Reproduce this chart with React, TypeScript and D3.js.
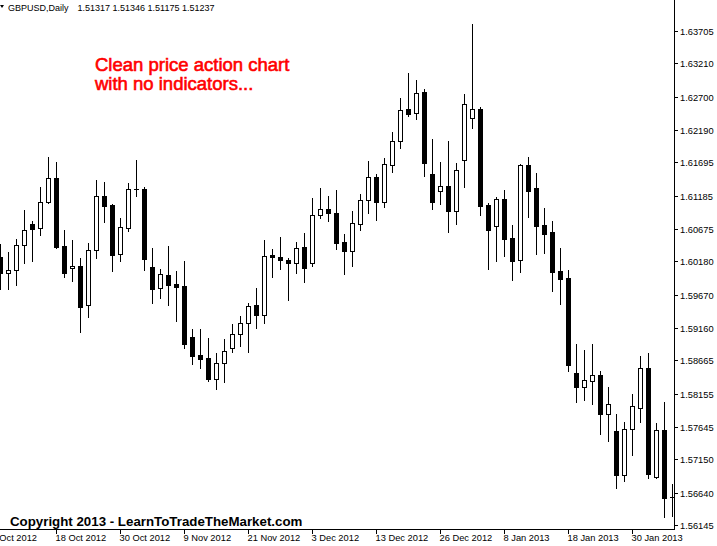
import React from "react";
import * as d3 from "d3";

const W = 717;
const H = 546;

// Daily GBPUSD candles, one per trading day (index 0 = 9 Oct 2012 ... 84 = 6 Feb 2013)
const openPrices = [1.60252,1.59998,1.60044,1.60426,1.60748,1.60686,1.61084,1.61451,1.60411,1.60074,
1.60105,1.59508,1.60350,1.61176,1.61038,1.60289,1.60696,1.61283,1.61283,1.60094,
1.59768,1.59972,1.59834,1.59803,1.59019,1.58743,1.58697,1.58385,1.58621,1.58850,
1.59065,1.59233,1.59508,1.59355,1.60273,1.60243,1.60197,1.60151,1.60400,1.60151,
1.60885,1.60982,1.60920,1.60477,1.60334,1.60748,1.61115,1.61467,1.61093,1.61650,
1.62017,1.62507,1.62445,1.62771,1.61517,1.61252,1.61333,1.60955,1.61735,1.62378,
1.62511,1.61042,1.60716,1.61134,1.60537,1.60193,1.61654,1.61298,1.60731,1.60624,
1.60027,1.59925,1.58471,1.58261,1.58353,1.58440,1.57848,1.57583,1.56915,1.57609,
1.57940,1.58543,1.56884,1.57599,1.56569];

const highPrices = [1.60446,1.60324,1.60523,1.60966,1.60798,1.61318,1.61777,1.61701,1.60660,1.60507,
1.60232,1.60461,1.61421,1.61390,1.61058,1.60839,1.61379,1.61731,1.61318,1.60385,
1.60064,1.60415,1.60033,1.60191,1.59146,1.59146,1.59008,1.58778,1.58993,1.59222,
1.59344,1.59543,1.59773,1.60507,1.60370,1.60553,1.60227,1.60477,1.60614,1.61150,
1.61303,1.61180,1.61272,1.60599,1.60951,1.61216,1.61716,1.61517,1.61762,1.62159,
1.62680,1.63062,1.62955,1.62817,1.62052,1.61701,1.62022,1.61680,1.62741,1.63812,
1.62537,1.61073,1.61165,1.61272,1.60736,1.61670,1.61777,1.61532,1.60992,1.60798,
1.60385,1.60047,1.58915,1.58823,1.58915,1.58502,1.58257,1.57844,1.57721,1.58149,
1.58731,1.58777,1.57706,1.58032,1.56772];

const lowPrices = [1.59753,1.59753,1.59823,1.60160,1.60191,1.60588,1.61069,1.60389,1.59946,1.59885,
1.59104,1.59334,1.60236,1.60787,1.60038,1.60191,1.60650,1.61185,1.60053,1.59548,
1.59624,1.59517,1.59273,1.58850,1.58615,1.58553,1.58355,1.58228,1.58339,1.58798,
1.58890,1.58798,1.59165,1.59242,1.59946,1.60068,1.59594,1.60007,1.59869,1.60114,
1.60848,1.60803,1.60370,1.59992,1.60114,1.60665,1.60925,1.60818,1.61017,1.61552,
1.61919,1.62409,1.62363,1.61491,1.60985,1.61062,1.60634,1.60756,1.61322,1.62225,
1.60894,1.60068,1.60191,1.60266,1.59899,1.60021,1.60863,1.60297,1.60312,1.59731,
1.59532,1.58506,1.58032,1.58058,1.58001,1.57542,1.57435,1.56716,1.56823,1.57216,
1.57726,1.56869,1.56869,1.56272,1.56287];

const closePrices = [1.59998,1.60048,1.60426,1.60656,1.60680,1.61084,1.61451,1.60400,1.59998,1.60105,
1.59487,1.60350,1.61176,1.61023,1.60282,1.60702,1.61283,1.61283,1.60212,1.59762,
1.59982,1.59823,1.59793,1.58921,1.58737,1.58691,1.58381,1.58625,1.58804,1.59065,
1.59233,1.59493,1.59355,1.60258,1.60243,1.60197,1.60151,1.60380,1.60083,1.60885,
1.60977,1.60925,1.60466,1.60344,1.60763,1.61115,1.61467,1.61093,1.61665,1.62017,
1.62492,1.62439,1.62752,1.61689,1.61093,1.61328,1.60955,1.61573,1.62583,1.62507,
1.61031,1.60664,1.61134,1.60526,1.60190,1.61654,1.61261,1.60725,1.60603,1.60021,
1.59914,1.58598,1.58261,1.58359,1.58440,1.57848,1.57992,1.56915,1.57614,1.57961,
1.58543,1.56930,1.57599,1.56563,1.56569];

const priceTicks = [1.63705,1.63210,1.62700,1.62190,1.61695,1.61185,1.60675,1.60180,
1.59670,1.59160,1.58665,1.58155,1.57645,1.57150,1.56640,1.56145];

const dateTickIndex = [-1,7,15,23,31,39,47,55,63,71,79];
const dateTickLabels = ["8 Oct 2012","18 Oct 2012","30 Oct 2012","9 Nov 2012","21 Nov 2012",
"3 Dec 2012","13 Dec 2012","26 Dec 2012","8 Jan 2013","18 Jan 2013","30 Jan 2013"];

const headerSymbol = "GBPUSD,Daily";
const headerValues = "1.51317 1.51346 1.51175 1.51237";

const SMALL_FONT = "'Liberation Sans', Arial, sans-serif";

export default function App() {
  const x = d3.scaleLinear().domain([0, 1]).range([0, 8]);
  const y = d3.scaleLinear().domain([1.56145, 1.63705]).range([525, 31]);
  const axisX = 674;
  const axisY = 529;
  const py = (v: number) => Math.round(y(v));

  const candles = d3.range(openPrices.length).map((i) => ({
    i,
    o: openPrices[i],
    h: highPrices[i],
    l: lowPrices[i],
    c: closePrices[i],
  }));

  return (
    <svg
      width={W}
      height={H}
      style={{ position: "absolute", left: 0, top: 0, background: "#fff" }}
      shapeRendering="crispEdges"
    >
      <rect x={0} y={0} width={W} height={H} fill="#fff" />
      {/* header */}
      <polygon points="0,5 4,5 2,8" fill="#000" shapeRendering="auto" />
      <text x={8} y={11} fontFamily={SMALL_FONT} fontSize={9} fill="#000">
        {headerSymbol}
      </text>
      <text x={77.5} y={11} fontFamily={SMALL_FONT} fontSize={9} fill="#000">
        {headerValues}
      </text>

      {/* candles */}
      <g>
        {candles.map((d) => {
          const cx = x(d.i);
          const yh = py(d.h);
          const yl = py(d.l);
          const top = py(Math.max(d.o, d.c));
          const bot = py(Math.min(d.o, d.c));
          const bull = d.c > d.o;
          const bear = d.c < d.o;
          return (
            <g key={d.i}>
              <line x1={cx + 0.5} x2={cx + 0.5} y1={yh} y2={yl + 1} stroke="#000" strokeWidth={1} />
              {bull && (
                <rect x={cx - 1.5} y={top + 0.5} width={4} height={Math.max(1, bot - top)} fill="#fff" stroke="#000" strokeWidth={1} />
              )}
              {bear && (
                <rect x={cx - 2} y={top} width={5} height={bot - top + 1} fill="#000" />
              )}
              {!bull && !bear && (
                <line x1={cx - 2} x2={cx + 3} y1={top + 0.5} y2={top + 0.5} stroke="#000" strokeWidth={1} />
              )}
            </g>
          );
        })}
      </g>

      {/* frame */}
      <line x1={axisX + 0.5} x2={axisX + 0.5} y1={0} y2={axisY + 1} stroke="#000" />
      <line x1={0} x2={axisX + 1} y1={axisY + 0.5} y2={axisY + 0.5} stroke="#000" />

      {/* price axis */}
      {priceTicks.map((v) => {
        const yy = py(v) + 0.5;
        return (
          <g key={v}>
            <line x1={axisX + 1} x2={axisX + 4} y1={yy} y2={yy} stroke="#000" />
            <text x={680} y={yy + 3.5} fontFamily={SMALL_FONT} fontSize={9.3} fill="#000">
              {v.toFixed(5)}
            </text>
          </g>
        );
      })}

      {/* time axis */}
      {dateTickIndex.map((idx, j) => {
        const xx = x(idx) + 0.5;
        return (
          <g key={idx}>
            <line x1={xx} x2={xx} y1={axisY + 1} y2={axisY + 5} stroke="#000" />
            <text x={xx - 1} y={541} fontFamily={SMALL_FONT} fontSize={9.3} fill="#000">
              {dateTickLabels[j]}
            </text>
          </g>
        );
      })}

      {/* annotations */}
      <text x={95} y={70.5} fontFamily={SMALL_FONT} fontSize={18.5} fill="#ff0000" stroke="#ff0000" strokeWidth={0.6} shapeRendering="auto">
        Clean price action chart
      </text>
      <text x={95} y={90} fontFamily={SMALL_FONT} fontSize={18.5} fill="#ff0000" stroke="#ff0000" strokeWidth={0.6} shapeRendering="auto">
        with no indicators...
      </text>
      <text x={10} y={526} fontFamily={SMALL_FONT} fontSize={13.3} fontWeight="bold" fill="#000">
        Copyright 2013 - LearnToTradeTheMarket.com
      </text>
    </svg>
  );
}
